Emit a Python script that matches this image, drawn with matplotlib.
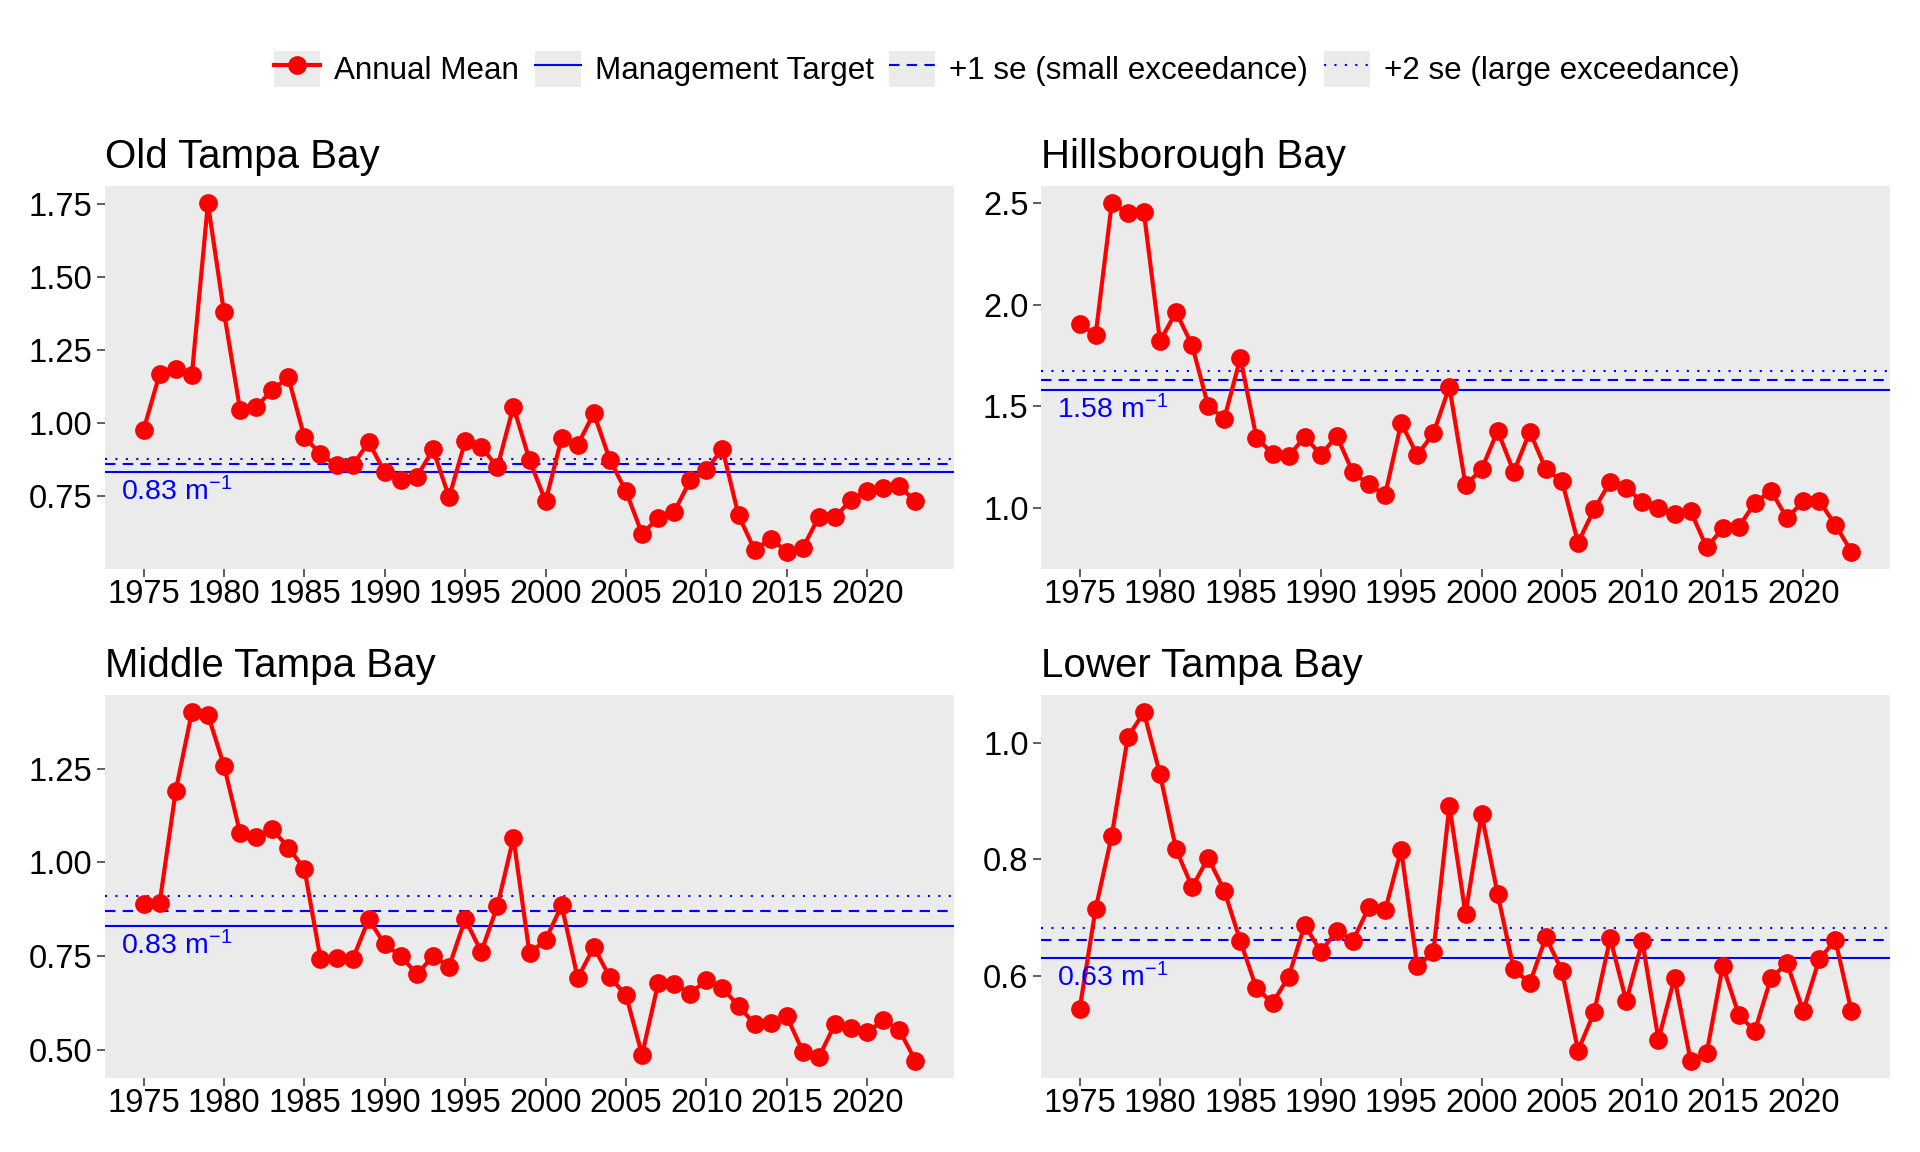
import matplotlib
matplotlib.use("Agg")
import matplotlib.pyplot as plt
from matplotlib.lines import Line2D
from matplotlib.patches import Rectangle
from matplotlib.legend_handler import HandlerLine2D

plt.rcParams['font.family'] = ['Liberation Sans', 'DejaVu Sans']
plt.rcParams['mathtext.fontset'] = 'custom'
plt.rcParams['mathtext.rm'] = 'Liberation Sans'
plt.rcParams['mathtext.it'] = 'Liberation Sans'
plt.rcParams['mathtext.default'] = 'regular'

# ---------------- data ----------------
years = list(range(1975, 2024))

bay_names = ["Old Tampa Bay", "Hillsborough Bay", "Middle Tampa Bay", "Lower Tampa Bay"]

otb = [0.976, 1.168, 1.185, 1.164, 1.752, 1.379, 1.045, 1.054, 1.113, 1.156,
       0.951, 0.894, 0.854, 0.854, 0.934, 0.831, 0.805, 0.816, 0.909, 0.745,
       0.937, 0.919, 0.848, 1.056, 0.873, 0.731, 0.948, 0.925, 1.033, 0.873,
       0.766, 0.620, 0.674, 0.696, 0.803, 0.839, 0.911, 0.683, 0.565, 0.603,
       0.559, 0.571, 0.679, 0.677, 0.736, 0.766, 0.777, 0.783, 0.732]

hb = [1.903, 1.852, 2.498, 2.449, 2.454, 1.820, 1.964, 1.800, 1.501, 1.440,
      1.738, 1.345, 1.268, 1.255, 1.350, 1.263, 1.353, 1.175, 1.116, 1.064,
      1.419, 1.260, 1.367, 1.596, 1.113, 1.190, 1.380, 1.178, 1.375, 1.190,
      1.134, 0.830, 0.994, 1.129, 1.097, 1.031, 1.002, 0.971, 0.985, 0.807,
      0.900, 0.908, 1.026, 1.085, 0.949, 1.035, 1.035, 0.917, 0.786]

mtb = [0.890, 0.892, 1.191, 1.400, 1.394, 1.258, 1.079, 1.067, 1.089, 1.039,
       0.983, 0.743, 0.746, 0.741, 0.848, 0.781, 0.750, 0.701, 0.750, 0.722,
       0.848, 0.761, 0.883, 1.065, 0.757, 0.793, 0.885, 0.691, 0.774, 0.693,
       0.646, 0.486, 0.677, 0.675, 0.650, 0.686, 0.664, 0.617, 0.568, 0.570,
       0.589, 0.495, 0.481, 0.568, 0.559, 0.546, 0.579, 0.552, 0.471]

ltb = [0.542, 0.715, 0.840, 1.010, 1.052, 0.946, 0.817, 0.752, 0.802, 0.746,
       0.659, 0.578, 0.553, 0.598, 0.687, 0.641, 0.677, 0.660, 0.718, 0.712,
       0.816, 0.616, 0.640, 0.892, 0.706, 0.877, 0.740, 0.611, 0.587, 0.666,
       0.608, 0.471, 0.537, 0.664, 0.556, 0.659, 0.490, 0.596, 0.454, 0.467,
       0.617, 0.532, 0.505, 0.596, 0.621, 0.539, 0.628, 0.661, 0.539]

series = [otb, hb, mtb, ltb]

targets = [0.83, 1.58, 0.83, 0.63]
small_exceed = [0.860, 1.632, 0.870, 0.661]
large_exceed = [0.877, 1.672, 0.909, 0.681]

target_labels = ["0.83", "1.58", "0.83", "0.63"]

yticks = [[0.75, 1.00, 1.25, 1.50, 1.75],
          [1.0, 1.5, 2.0, 2.5],
          [0.50, 0.75, 1.00, 1.25],
          [0.6, 0.8, 1.0]]
ytick_fmt = ["{:.2f}", "{:.1f}", "{:.2f}", "{:.1f}"]
xticks = [1975, 1980, 1985, 1990, 1995, 2000, 2005, 2010, 2015, 2020]

legend_labels = ["Annual Mean", "Management Target",
                 "+1 se (small exceedance)", "+2 se (large exceedance)"]

# ---------------- style ----------------
W, H = 1920, 1152
fig = plt.figure(figsize=(W / 100, H / 100), dpi=100)

panel_bg = "#EBEBEB"
red = "#FF0000"
blue = "#0000FF"
tick_col = "#333333"
line_lw = 3.0
marker_size = 13.5
hline_lw = 1.5
dash_style = (0, (5, 3.5))
dot_style = (0, (1, 4))

# panel positions in pixels (left, top, right, bottom)
panels_px = [(105, 186, 954, 569), (1041, 186, 1890, 569),
             (105, 695, 954, 1078), (1041, 695, 1890, 1078)]

for i, (name, vals) in enumerate(zip(bay_names, series)):
    l, t, r, b = panels_px[i]
    ax = fig.add_axes([l / W, 1 - b / H, (r - l) / W, (b - t) / H])
    ax.set_facecolor(panel_bg)
    for s in ax.spines.values():
        s.set_visible(False)

    ax.axhline(large_exceed[i], color=blue, lw=hline_lw, ls=dot_style, zorder=1)
    ax.axhline(small_exceed[i], color=blue, lw=hline_lw, ls=dash_style, zorder=1)
    ax.axhline(targets[i], color=blue, lw=hline_lw, ls='-', zorder=1)

    ax.plot(years, vals, color=red, lw=line_lw, marker='o', ms=marker_size,
            mew=0, zorder=3)

    # ggplot-like 5% expansion
    allv = list(vals) + [targets[i], small_exceed[i], large_exceed[i]]
    lo, hi = min(allv), max(allv)
    rng = hi - lo
    ax.set_ylim(lo - 0.05 * rng, hi + 0.05 * rng)
    xr = years[-1] - years[0]
    ax.set_xlim(years[0] - 0.05 * xr, years[-1] + 0.05 * xr)

    ax.set_xticks(xticks)
    ax.set_xticklabels([str(x) for x in xticks])
    ax.set_yticks(yticks[i])
    ax.set_yticklabels([ytick_fmt[i].format(v) for v in yticks[i]])
    ax.tick_params(axis='both', colors=tick_col, labelcolor='black',
                   labelsize=23.5, length=5.5, width=1.1)
    ax.tick_params(axis='x', pad=2)
    ax.tick_params(axis='y', pad=3.5)
    ax.grid(False)

    ax.set_title(name, loc='left', fontsize=29, pad=13, color='black')

    ax.annotate(target_labels[i] + r" m$^{-1}$",
                xy=(0, targets[i]), xycoords=('axes fraction', 'data'),
                xytext=(11.5, -3.5), textcoords='offset points',
                ha='left', va='top', color=blue, fontsize=20.5, zorder=4)


class KeyHandler(HandlerLine2D):
    def create_artists(self, legend, orig_handle, xdescent, ydescent,
                       width, height, fontsize, trans):
        bg = Rectangle((-xdescent, -ydescent), width, height,
                       facecolor=panel_bg, edgecolor='none', transform=trans)
        arts = super().create_artists(legend, orig_handle, xdescent, ydescent,
                                      width, height, fontsize, trans)
        return [bg] + list(arts)


handles = [
    Line2D([], [], color=red, lw=line_lw, marker='o', ms=marker_size, mew=0),
    Line2D([], [], color=blue, lw=hline_lw, ls='-'),
    Line2D([], [], color=blue, lw=hline_lw, ls=dash_style),
    Line2D([], [], color=blue, lw=hline_lw, ls=dot_style),
]
fig.legend(handles, legend_labels, loc='center',
           bbox_to_anchor=(1007 / W, 1 - 69 / H), ncol=4, frameon=False,
           fontsize=22.6, numpoints=1, handlelength=1.46, handleheight=1.4,
           handletextpad=0.45, columnspacing=0.5, borderpad=0,
           handler_map={h: KeyHandler(numpoints=1) for h in handles})

fig.savefig("out.png", dpi=100, facecolor='white')
